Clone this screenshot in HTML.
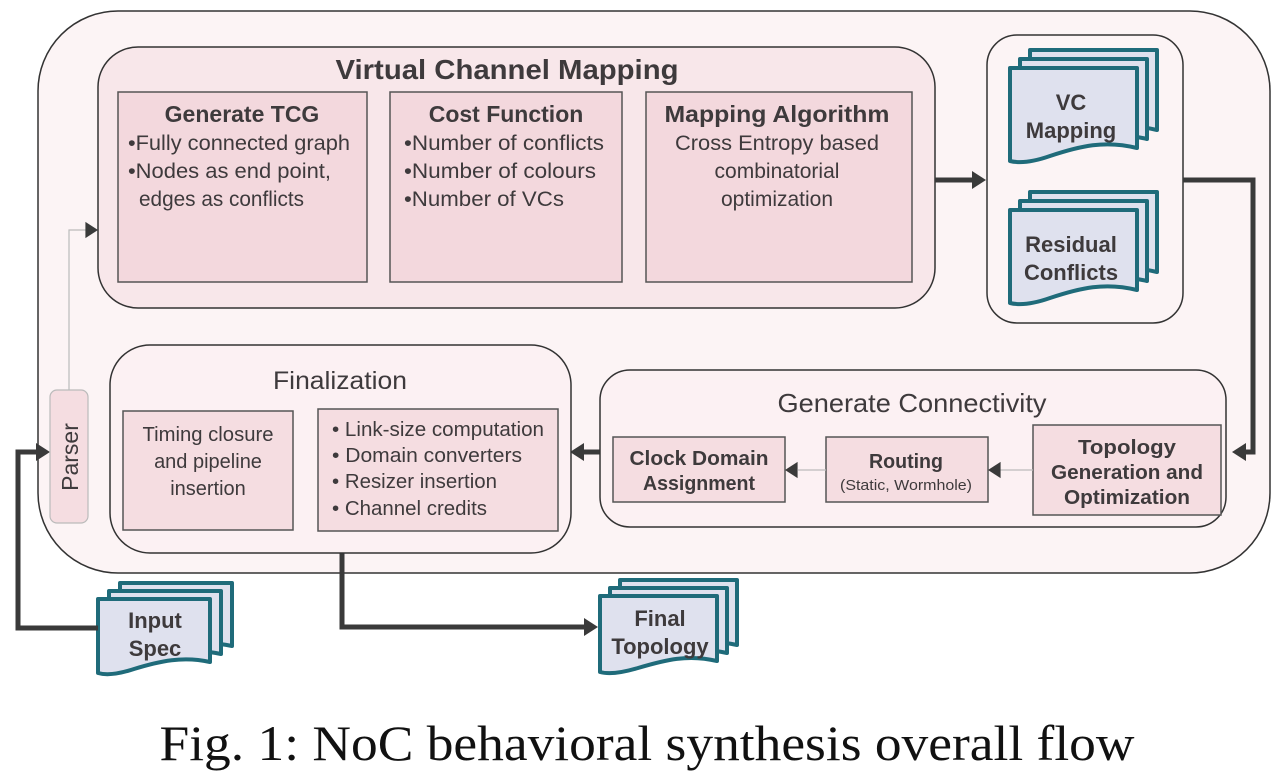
<!DOCTYPE html>
<html><head><meta charset="utf-8"><style>
html,body{margin:0;padding:0;background:#fff;}
svg{display:block;}
text{font-family:"Liberation Sans",sans-serif;fill:#3e3a3c;}
.b{font-weight:bold;}
</style></head><body>
<svg width="1283" height="783" viewBox="0 0 1283 783" xmlns="http://www.w3.org/2000/svg">
<defs>
<path id="arr" d="M0,0 L-14,-9 L-14,9 Z" fill="#3a3a3a"/>
</defs>
<rect x="38" y="11" width="1232" height="562" rx="80" fill="#fcf4f5" stroke="#333" stroke-width="1.5"/>
<rect x="98" y="47" width="837" height="261" rx="40" fill="#f8e7ea" stroke="#333" stroke-width="1.5"/>
<text x="507" y="79" font-size="28" class="b" text-anchor="middle" textLength="343" lengthAdjust="spacingAndGlyphs">Virtual Channel Mapping</text>
<g fill="#f3d8dd" stroke="#555" stroke-width="1.5">
<rect x="118" y="92" width="249" height="190"/>
<rect x="390" y="92" width="232" height="190"/>
<rect x="646" y="92" width="266" height="190"/>
</g>
<g font-size="21">
<text x="242" y="122" class="b" font-size="23" text-anchor="middle">Generate  TCG</text>
<text x="128" y="150" textLength="222" lengthAdjust="spacingAndGlyphs">•Fully connected graph</text>
<text x="128" y="178" textLength="203" lengthAdjust="spacingAndGlyphs">•Nodes as end point,</text>
<text x="139" y="206" textLength="165" lengthAdjust="spacingAndGlyphs">edges as conflicts</text>
<text x="506" y="122" class="b" font-size="23" text-anchor="middle">Cost Function</text>
<text x="404" y="150" textLength="200" lengthAdjust="spacingAndGlyphs">•Number of conflicts</text>
<text x="404" y="178" textLength="192" lengthAdjust="spacingAndGlyphs">•Number of colours</text>
<text x="404" y="206" textLength="160" lengthAdjust="spacingAndGlyphs">•Number of VCs</text>
<text x="777" y="122" class="b" font-size="23" text-anchor="middle" textLength="225" lengthAdjust="spacingAndGlyphs">Mapping Algorithm</text>
<text x="777" y="150" text-anchor="middle" textLength="204" lengthAdjust="spacingAndGlyphs">Cross Entropy based</text>
<text x="777" y="178" text-anchor="middle">combinatorial</text>
<text x="777" y="206" text-anchor="middle">optimization</text>
</g>
<rect x="987" y="35" width="196" height="288" rx="30" fill="#fcf4f5" stroke="#333" stroke-width="1.5"/>
<g fill="#dfe1ee" stroke="#1f6b7a" stroke-width="4" stroke-linejoin="round">
<g transform="translate(1030,50)"><path d="M0 0 H127 V80 C95 72 70 78 40 88 C20 95 8 95 0 93 Z"/></g>
<g transform="translate(1020,59)"><path d="M0 0 H127 V80 C95 72 70 78 40 88 C20 95 8 95 0 93 Z"/></g>
<g transform="translate(1010,68)"><path d="M0 0 H127 V80 C95 72 70 78 40 88 C20 95 8 95 0 93 Z"/></g>
<g transform="translate(1030,192)"><path d="M0 0 H127 V80 C95 72 70 78 40 88 C20 95 8 95 0 93 Z"/></g>
<g transform="translate(1020,201)"><path d="M0 0 H127 V80 C95 72 70 78 40 88 C20 95 8 95 0 93 Z"/></g>
<g transform="translate(1010,210)"><path d="M0 0 H127 V80 C95 72 70 78 40 88 C20 95 8 95 0 93 Z"/></g>
<g transform="translate(120,583)"><path d="M0 0 H112 V63 C85 57 62 62 36 70 C18 76 7 76 0 74 Z"/></g>
<g transform="translate(109,591)"><path d="M0 0 H112 V63 C85 57 62 62 36 70 C18 76 7 76 0 74 Z"/></g>
<g transform="translate(98,599)"><path d="M0 0 H112 V63 C85 57 62 62 36 70 C18 76 7 76 0 74 Z"/></g>
<g transform="translate(620,580)"><path d="M0 0 H117 V65 C88 58 65 64 38 72 C18 78 7 78 0 76 Z"/></g>
<g transform="translate(610,588)"><path d="M0 0 H117 V65 C88 58 65 64 38 72 C18 78 7 78 0 76 Z"/></g>
<g transform="translate(600,596)"><path d="M0 0 H117 V65 C88 58 65 64 38 72 C18 78 7 78 0 76 Z"/></g>
</g>
<g class="b" font-size="22" text-anchor="middle">
<text x="1071" y="110" class="b">VC</text>
<text x="1071" y="138" class="b">Mapping</text>
<text x="1071" y="252" class="b">Residual</text>
<text x="1071" y="280" class="b">Conflicts</text>
<text x="155" y="628" class="b">Input</text>
<text x="155" y="656" class="b">Spec</text>
<text x="660" y="626" class="b">Final</text>
<text x="660" y="654" class="b">Topology</text>
</g>
<g fill="none" stroke="#3a3a3a" stroke-width="5">
<path d="M935 180 H972"/>
<path d="M1183 180 H1253 V452 H1246"/>
<path d="M98 628 H18 V452 H36"/>
<path d="M342 553 V627 H585"/>
<path d="M600 452 H584"/>
</g>
<use href="#arr" transform="translate(986,180)"/>
<use href="#arr" transform="translate(1232,452) rotate(180)"/>
<use href="#arr" transform="translate(50,452)"/>
<use href="#arr" transform="translate(598,627)"/>
<use href="#arr" transform="translate(570,452) rotate(180)"/>
<rect x="600" y="370" width="626" height="157" rx="30" fill="#fcf1f3" stroke="#333" stroke-width="1.5"/>
<text x="912" y="412" font-size="26" text-anchor="middle" textLength="269" lengthAdjust="spacingAndGlyphs">Generate Connectivity</text>
<g fill="#f5dde1" stroke="#555" stroke-width="1.5">
<rect x="1033" y="425" width="188" height="90"/>
<rect x="826" y="437" width="162" height="65"/>
<rect x="613" y="437" width="172" height="65"/>
</g>
<g class="b" font-size="20" text-anchor="middle">
<text x="1127" y="454" class="b" textLength="98" lengthAdjust="spacingAndGlyphs">Topology</text>
<text x="1127" y="479" class="b" textLength="152" lengthAdjust="spacingAndGlyphs">Generation and</text>
<text x="1127" y="504" class="b" textLength="126" lengthAdjust="spacingAndGlyphs">Optimization</text>
<text x="906" y="468" class="b" textLength="74" lengthAdjust="spacingAndGlyphs">Routing</text>
<text x="699" y="465" class="b" textLength="139" lengthAdjust="spacingAndGlyphs">Clock Domain</text>
<text x="699" y="490" class="b" textLength="112" lengthAdjust="spacingAndGlyphs">Assignment</text>
</g>
<text x="906" y="490" font-size="15" text-anchor="middle" textLength="132" lengthAdjust="spacingAndGlyphs">(Static, Wormhole)</text>
<g stroke="#bbb" stroke-width="1.2" fill="none">
<path d="M1033 470 H1000"/><path d="M826 470 H798"/><path d="M318 470 H304"/>
<path d="M69 390 V230 H86"/>
</g>
<use href="#arr" transform="translate(988,470) rotate(180) scale(0.9)"/>
<use href="#arr" transform="translate(785,470) rotate(180) scale(0.9)"/>
<use href="#arr" transform="translate(292,470) rotate(180) scale(0.9)"/>
<use href="#arr" transform="translate(98,230) scale(0.9)"/>
<rect x="110" y="345" width="461" height="208" rx="40" fill="#fcf1f3" stroke="#333" stroke-width="1.5"/>
<text x="340" y="389" font-size="25" text-anchor="middle" textLength="134" lengthAdjust="spacingAndGlyphs">Finalization</text>
<g fill="#f5dde1" stroke="#555" stroke-width="1.5">
<rect x="123" y="411" width="170" height="119"/>
<rect x="318" y="409" width="240" height="122"/>
</g>
<g font-size="20">
<text x="208" y="441" text-anchor="middle" textLength="131" lengthAdjust="spacingAndGlyphs">Timing closure</text>
<text x="208" y="468" text-anchor="middle">and pipeline</text>
<text x="208" y="495" text-anchor="middle">insertion</text>
<text x="332" y="436" textLength="212" lengthAdjust="spacingAndGlyphs">• Link-size computation</text>
<text x="332" y="462" textLength="190" lengthAdjust="spacingAndGlyphs">• Domain converters</text>
<text x="332" y="488" textLength="165" lengthAdjust="spacingAndGlyphs">• Resizer insertion</text>
<text x="332" y="515" textLength="155" lengthAdjust="spacingAndGlyphs">• Channel credits</text>
</g>
<rect x="50" y="390" width="38" height="133" rx="7" fill="#f5dde1" stroke="#bbb" stroke-width="1.2"/>
<text transform="translate(78,457) rotate(-90)" font-size="23" text-anchor="middle">Parser</text>
<text x="647" y="760" font-size="50" text-anchor="middle" textLength="975" lengthAdjust="spacingAndGlyphs" style="font-family:'Liberation Serif',serif;fill:#111">Fig. 1: NoC behavioral synthesis overall flow</text>
</svg>
</body></html>
